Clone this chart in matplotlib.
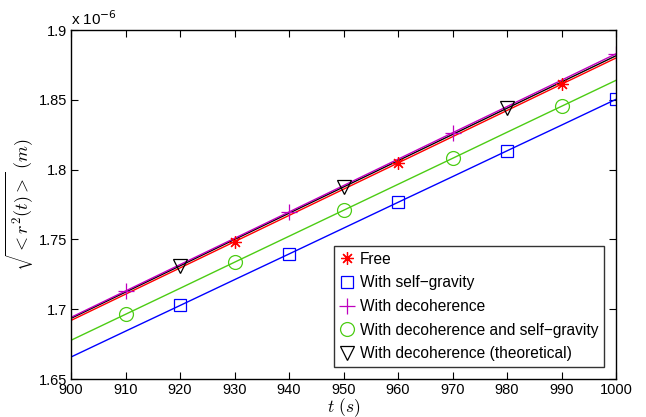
import numpy as np
import matplotlib
matplotlib.use('Agg')
import matplotlib.pyplot as plt
from matplotlib.ticker import FormatStrFormatter

plt.rcParams['font.family'] = ['Liberation Sans', 'DejaVu Sans']
plt.rcParams['mathtext.fontset'] = 'cm'

# time (s) and sqrt(<r^2(t)>) in units of 1e-6 m
t = np.array([900, 910, 920, 930, 940, 950, 960, 970, 980, 990, 1000])
free = [1.6920, 1.7108, 1.7296, 1.7484, 1.7672, 1.7860, 1.8048, 1.8236, 1.8424, 1.8612, 1.8800]
self_grav = [1.6658, 1.6843, 1.7027, 1.7212, 1.7396, 1.7581, 1.7766, 1.7950, 1.8135, 1.8319, 1.8504]
decoh = [1.6942, 1.7131, 1.7320, 1.7508, 1.7697, 1.7886, 1.8075, 1.8264, 1.8452, 1.8641, 1.8830]
decoh_sg = [1.6778, 1.6964, 1.7150, 1.7337, 1.7523, 1.7709, 1.7895, 1.8081, 1.8268, 1.8454, 1.8640]
theory = [1.6935, 1.7123, 1.7311, 1.7500, 1.7688, 1.7876, 1.8064, 1.8252, 1.8440, 1.8628, 1.8816]

labels = ['Free', 'With self\u2212gravity', 'With decoherence',
          'With decoherence and self\u2212gravity', 'With decoherence (theoretical)']

# which points get a marker
free_idx = [3, 6, 9]
sg_idx = [2, 4, 6, 8, 10]
dec_idx = [1, 4, 7, 10]
dsg_idx = [1, 3, 5, 7, 9]
th_idx = [2, 5, 8]

green = '#4ccc14'

fig = plt.figure(figsize=(6.46, 4.17), dpi=100)
ax = fig.add_axes([0.110, 0.091, 0.8437, 0.837])

# lines
ax.plot(t, self_grav, color='b', lw=1.0)
ax.plot(t, decoh_sg, color=green, lw=1.0)
ax.plot(t, free, color='r', lw=1.0)
ax.plot(t, theory, color='k', lw=1.0)
ax.plot(t, decoh, color='m', lw=1.0)

# markers
series = [
    (free, free_idx, 'r', (8, 2, 0), 9),
    (self_grav, sg_idx, 'b', 's', 9),
    (decoh, dec_idx, 'm', '+', 12),
    (decoh_sg, dsg_idx, green, 'o', 10),
    (theory, th_idx, 'k', 'v', 10),
]
for (vals, idx, c, m, ms), lab in zip(series, labels):
    ax.plot(t[idx], np.array(vals)[idx], linestyle='none', marker=m, ms=ms,
            mfc='none', mec=c, mew=0.9, label=lab)

ax.set_xlim(900, 1000)
ax.set_ylim(1.65, 1.9)
ax.set_xticks(np.arange(900, 1001, 10))
ax.set_yticks([1.65, 1.7, 1.75, 1.8, 1.85, 1.9])
ax.yaxis.set_major_formatter(FormatStrFormatter('%g'))
ax.tick_params(direction='in', top=True, right=True, length=5, width=0.8,
               labelsize=10.5, pad=3)
for s in ax.spines.values():
    s.set_linewidth(1.0)

ax.text(0.0, 1.005, r'x 10$^{-6}$', transform=ax.transAxes, fontsize=11,
        ha='left', va='bottom', math_fontfamily='dejavusans')

ax.set_xlabel(r'$t\ (s)$', fontsize=12.5, labelpad=-1)
ax.set_ylabel(r'$\sqrt{<r^2(t)>}\ (m)$', fontsize=13, labelpad=2)

leg = ax.legend(loc='lower right', fontsize=11.2, frameon=True, fancybox=False,
                edgecolor='k', handlelength=1.0, handletextpad=0.3,
                borderaxespad=0.8, labelspacing=0.55, borderpad=0.35)
leg.get_frame().set_linewidth(1.0)

fig.savefig('out.png', dpi=100)
